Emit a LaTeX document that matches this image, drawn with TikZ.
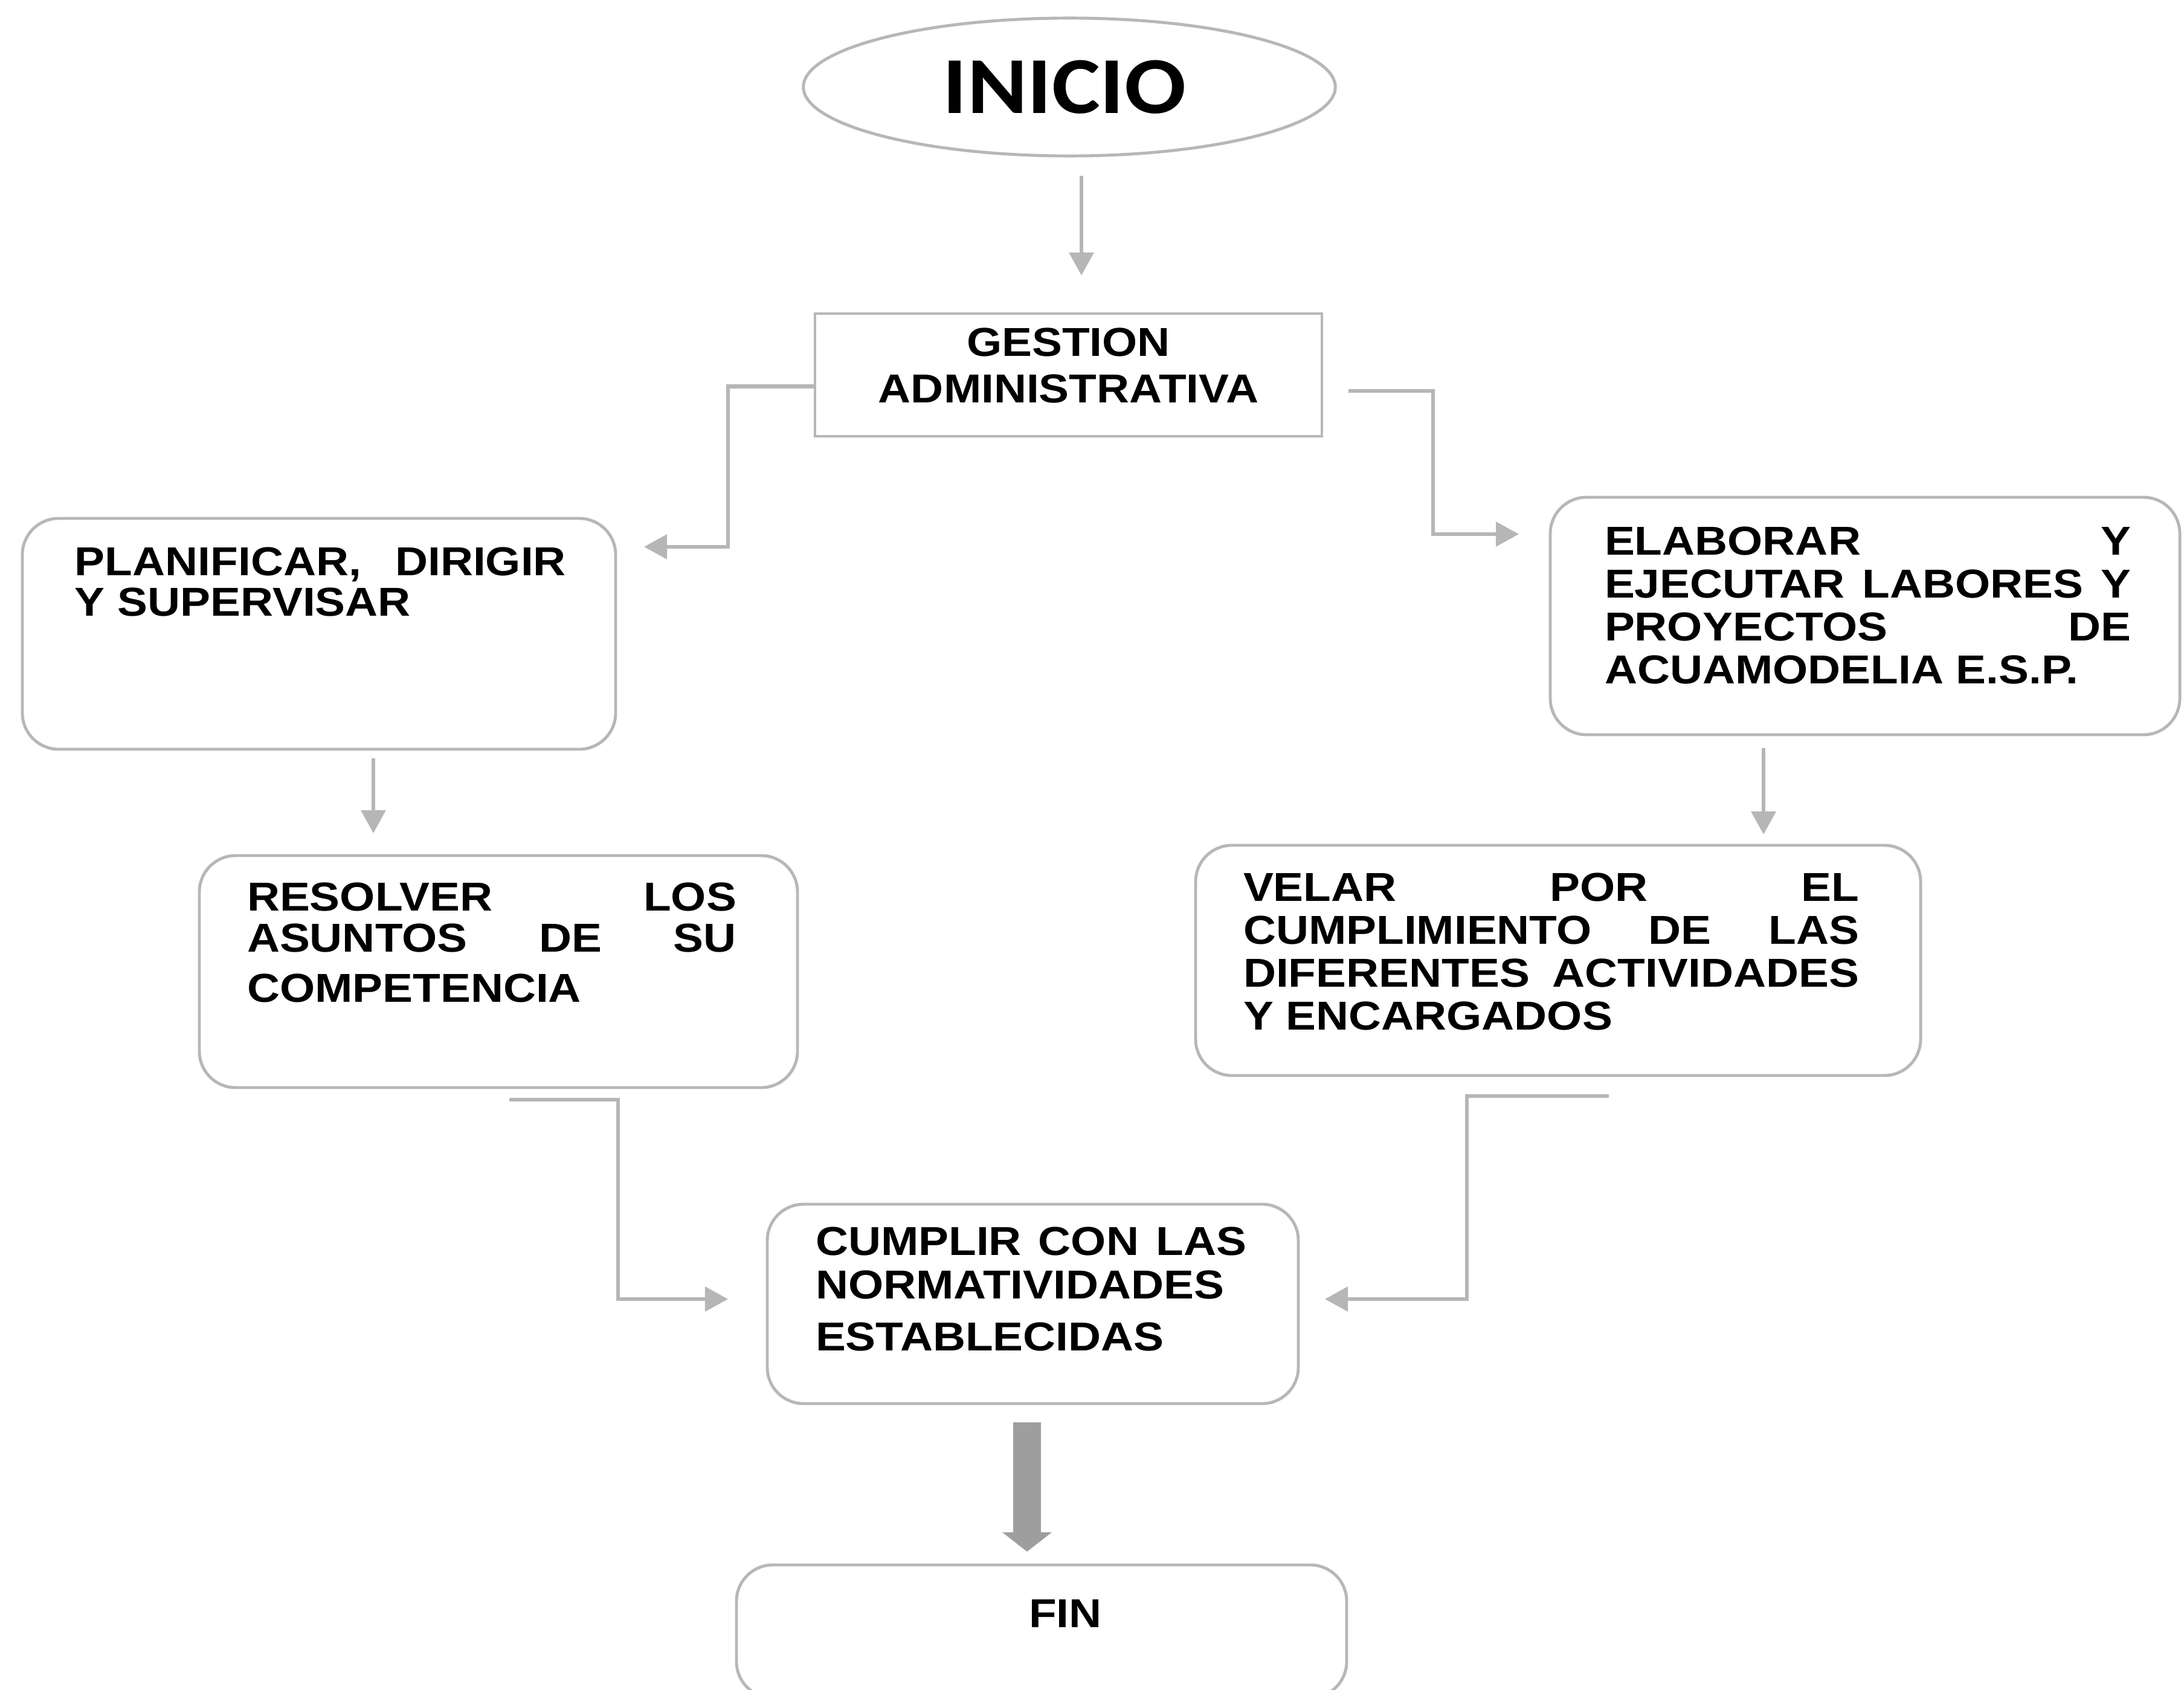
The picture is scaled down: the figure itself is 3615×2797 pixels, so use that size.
\documentclass[tikz,border=0pt]{standalone}
\usepackage{fontspec}
\setmainfont{Liberation Sans}[FakeStretch=1.12]
\newfontfamily\inifont{Carlito}[FakeStretch=1.13]
\usetikzlibrary{arrows.meta,shapes.geometric,calc}
\newdimen\px \px=0.01cm
% #1 W, #2 H, #3 left pad, #4 top pad, #5 text width, #6 baseline pitch, #7 lines
\newcommand\btext[7]{\vbox to #2\px{\kern#4\px\hbox to #1\px{\kern#3\px\vtop{\hsize=#5\px\baselineskip=#6\px\lineskiplimit=-100pt\relax #7}\hss}\vss}}
\newcommand\jl[1]{\hbox to\hsize{#1}}
\newcommand\cl[1]{\hbox to\hsize{\hss#1\hss}}
\definecolor{bordergray}{RGB}{183,183,183}
\definecolor{linegray}{RGB}{182,182,182}
\definecolor{thickgray}{RGB}{158,158,158}
\tikzset{
  boxfont/.style={font={\fontsize{19pt}{19pt}\selectfont\bfseries}},
  rbox/.style={draw=bordergray, line width=1.4pt, rounded corners=0.6cm, inner sep=0pt, fill=white, boxfont},
  sbox/.style={draw=bordergray, line width=1.4pt, inner sep=0pt, fill=white, boxfont},
  conn/.style={draw=linegray, line width=1.8pt, -{Triangle[length=0.38cm,width=0.4cm]}},
  thick conn/.style={draw=thickgray, line width=0.46cm, -{Triangle[length=0.32cm,width=0.8cm]}}
}
\begin{document}
\begin{tikzpicture}[x=0.01cm,y=-0.01cm]
\useasboundingbox (0,0) rectangle (3615,2797);
\fill[white] (0,0) rectangle (3615,2797);

% INICIO
\node[ellipse, draw=bordergray, line width=1.4pt, inner sep=0pt,
      minimum width=8.8cm, minimum height=2.28cm,
      font={\inifont\bfseries\fontsize{38pt}{38pt}\selectfont}] (ini) at (1770,144) {INICIO\kern16\px};

% GESTION
\node[sbox] (gest) at (1768.5,620.5)
  {\btext{839}{203}{0}{24}{839}{77}{\cl{GESTION}\cl{ADMINISTRATIVA}}};

% PLANIFICAR
\node[rbox] (plan) at (528,1049)
  {\btext{982}{382}{87}{48}{813}{67}{\jl{PLANIFICAR,\hfill DIRIGIR}\hbox{Y SUPERVISAR}}};

% ELABORAR
\node[rbox] (elab) at (3087,1019.5)
  {\btext{1042}{393}{90}{49}{871}{71}{\jl{ELABORAR\hfill Y}\jl{EJECUTAR\hfill LABORES\hfill Y}\jl{PROYECTOS\hfill DE}\hbox{ACUAMODELIA E.S.P.}}};

% RESOLVER
\node[rbox] (res) at (825,1608)
  {\btext{990}{384}{79}{45}{810}{68}{\jl{RESOLVER\hfill LOS}\jl{ASUNTOS\hfill DE\hfill SU}\vskip15\px\hbox{COMPETENCIA}}};

% VELAR
\node[rbox] (vel) at (2579,1589.5)
  {\btext{1200}{381}{79}{46}{1019}{71}{\jl{VELAR\hfill POR\hfill EL}\jl{CUMPLIMIENTO\hfill DE\hfill LAS}\jl{DIFERENTES\hfill ACTIVIDADES}\hbox{Y ENCARGADOS}}};

% CUMPLIR
\node[rbox] (cum) at (1709.5,2158)
  {\btext{879}{330}{80}{38}{713}{72}{\jl{CUMPLIR\hfill CON\hfill LAS}\hbox{NORMATIVIDADES}\vskip14\px\hbox{ESTABLECIDAS}}};

% FIN
\node[rbox] (fin) at (1724,2700)
  {\btext{1010}{220}{484}{57}{200}{70}{\hbox{FIN}}};

% free ends of connectors
\coordinate (a1s) at (1790,291);
\coordinate (a1e) at (1790,456);
\coordinate (a2e) at (1066,905);
\coordinate (a3s) at (2232,647);
\coordinate (a3e) at (2514,884);
\coordinate (a4s) at (618,1255);
\coordinate (a4e) at (618,1379);
\coordinate (a5s) at (2919,1238);
\coordinate (a5e) at (2919,1381);
\coordinate (a6s) at (843,1820);
\coordinate (a6e) at (1205,2150);
\coordinate (a7s) at (2663,1814);
\coordinate (a7e) at (2193,2150);
\coordinate (a8s) at (1700,2354);
\coordinate (a8e) at (1700,2568);

\draw[conn] (a1s) -- (a1e);
\draw[conn] ($(gest.west)+(0,19)$) -- (1205,639.5) -- (1205,905) -- (a2e);
\draw[conn] (a3s) -- (2372,647) -- (2372,884) -- (a3e);
\draw[conn] (a4s) -- (a4e);
\draw[conn] (a5s) -- (a5e);
\draw[conn] (a6s) -- (1023,1820) -- (1023,2150) -- (a6e);
\draw[conn] (a7s) -- (2428,1814) -- (2428,2150) -- (a7e);
\draw[thick conn] (a8s) -- (a8e);
\end{tikzpicture}
\end{document}
